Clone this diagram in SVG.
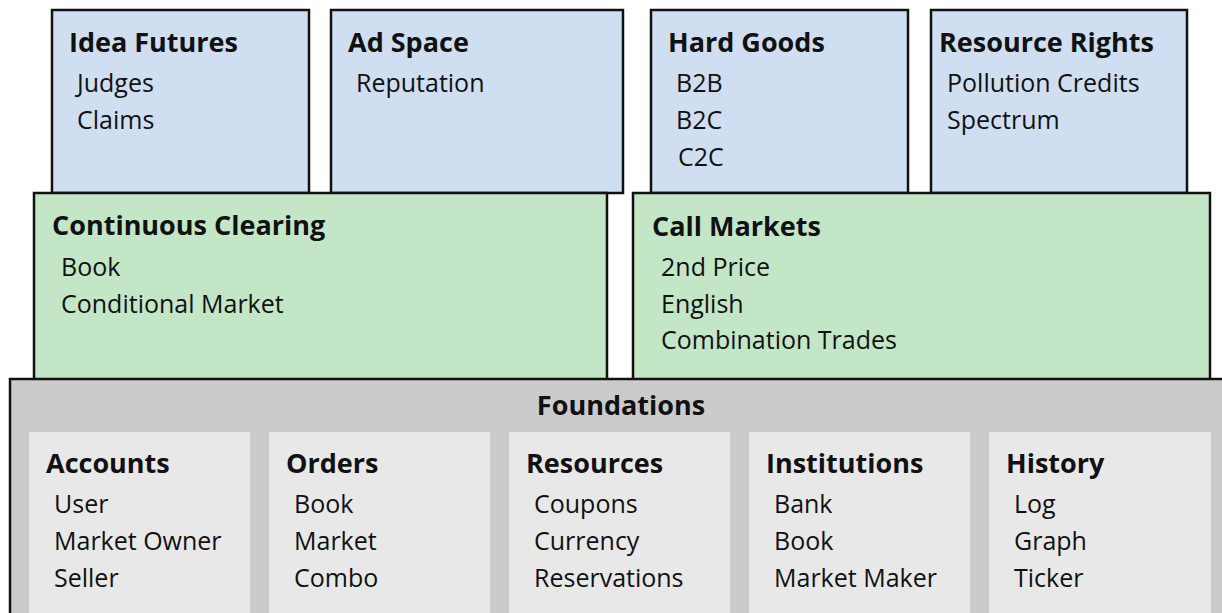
<svg xmlns="http://www.w3.org/2000/svg" width="1222" height="613" viewBox="0 0 1222 613">
  <style>
    .box { stroke: #111; stroke-width: 2.5; }
    .app { fill: #cfdff1; }
    .mkt { fill: #c3e6c6; }
    .base { fill: #cbcbcb; }
    .panel { fill: #e8e8e8; }
    text { font-family: "Open Sans", "Liberation Sans", sans-serif; fill: #111; }
    .t { font-weight: 700; font-size: 27px; }
    .i { font-size: 25px; }
  </style>

  <!-- application layer -->
  <g id="idea-futures">
    <rect class="box app" x="52" y="10" width="257" height="183"/>
    <text class="t" x="69" y="52">Idea Futures</text>
    <text class="i" x="77" y="92">Judges</text>
    <text class="i" x="77" y="129">Claims</text>
  </g>
  <g id="ad-space">
    <rect class="box app" x="331" y="10" width="292" height="183"/>
    <text class="t" x="348" y="52">Ad Space</text>
    <text class="i" x="356" y="92">Reputation</text>
  </g>
  <g id="hard-goods">
    <rect class="box app" x="651" y="10" width="257" height="183"/>
    <text class="t" x="668" y="52">Hard Goods</text>
    <text class="i" x="676" y="92">B2B</text>
    <text class="i" x="676" y="129">B2C</text>
    <text class="i" x="678" y="166">C2C</text>
  </g>
  <g id="resource-rights">
    <rect class="box app" x="931" y="10" width="256" height="183"/>
    <text class="t" x="939" y="52">Resource Rights</text>
    <text class="i" x="947" y="92">Pollution Credits</text>
    <text class="i" x="947" y="129">Spectrum</text>
  </g>

  <!-- market mechanisms -->
  <g id="continuous-clearing">
    <rect class="box mkt" x="34" y="193" width="573" height="192"/>
    <text class="t" x="52" y="235">Continuous Clearing</text>
    <text class="i" x="61" y="276">Book</text>
    <text class="i" x="61" y="313">Conditional Market</text>
  </g>
  <g id="call-markets">
    <rect class="box mkt" x="633" y="193" width="577" height="192"/>
    <text class="t" x="652" y="236">Call Markets</text>
    <text class="i" x="661" y="276">2nd Price</text>
    <text class="i" x="661" y="313">English</text>
    <text class="i" x="661" y="349">Combination Trades</text>
  </g>

  <!-- foundations layer -->
  <g id="foundations">
    <rect class="box base" x="10" y="379" width="1230" height="260"/>
    <text class="t" x="621" y="415" text-anchor="middle">Foundations</text>
  </g>
  <g id="accounts">
    <rect class="panel" x="29" y="432" width="221" height="200"/>
    <text class="t" x="46" y="473">Accounts</text>
    <text class="i" x="54" y="513">User</text>
    <text class="i" x="54" y="550">Market Owner</text>
    <text class="i" x="54" y="587">Seller</text>
  </g>
  <g id="orders">
    <rect class="panel" x="269" y="432" width="221" height="200"/>
    <text class="t" x="286" y="473">Orders</text>
    <text class="i" x="294" y="513">Book</text>
    <text class="i" x="294" y="550">Market</text>
    <text class="i" x="294" y="587">Combo</text>
  </g>
  <g id="resources">
    <rect class="panel" x="509" y="432" width="221" height="200"/>
    <text class="t" x="526" y="473">Resources</text>
    <text class="i" x="534" y="513">Coupons</text>
    <text class="i" x="534" y="550">Currency</text>
    <text class="i" x="534" y="587">Reservations</text>
  </g>
  <g id="institutions">
    <rect class="panel" x="749" y="432" width="221" height="200"/>
    <text class="t" x="766" y="473">Institutions</text>
    <text class="i" x="774" y="513">Bank</text>
    <text class="i" x="774" y="550">Book</text>
    <text class="i" x="774" y="587">Market Maker</text>
  </g>
  <g id="history">
    <rect class="panel" x="989" y="432" width="222" height="200"/>
    <text class="t" x="1006" y="473">History</text>
    <text class="i" x="1014" y="513">Log</text>
    <text class="i" x="1014" y="550">Graph</text>
    <text class="i" x="1014" y="587">Ticker</text>
  </g>

  <!-- the layers stack directly; no connectors -->
  <g id="connectors"/>
</svg>
